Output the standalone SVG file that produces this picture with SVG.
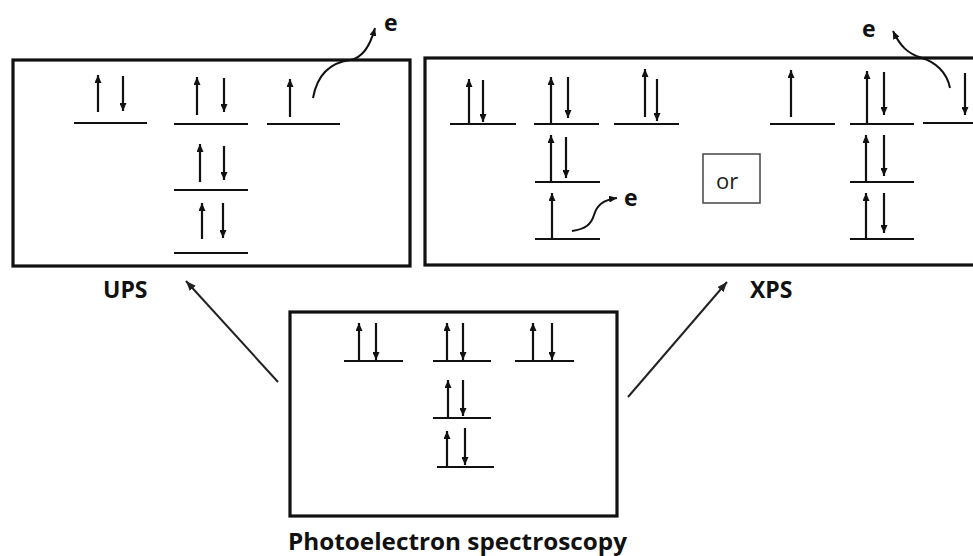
<svg xmlns="http://www.w3.org/2000/svg" width="973" height="556" viewBox="0 0 973 556">
<style>
.box{fill:none;stroke:#111;stroke-width:3.2}
.lv{stroke:#111;stroke-width:2.2}
.sp{stroke:#111;stroke-width:2.2;marker-end:url(#ah)}
.cv{fill:none;stroke:#111;stroke-width:2;marker-end:url(#ah)}
.cn{stroke:#222;stroke-width:2;marker-end:url(#ah2)}
.lbl{font-family:"Open Sans","Liberation Sans",sans-serif;font-weight:bold;fill:#111}
.or{font-family:"Open Sans","Liberation Sans",sans-serif;font-size:22px;fill:#222}
</style>
<defs>
<marker id="ah" markerUnits="userSpaceOnUse" markerWidth="8" markerHeight="7" refX="8" refY="3.5" orient="auto"><path d="M0,0 L8,3.5 L0,7 z" fill="#111"/></marker>
<marker id="ah2" markerUnits="userSpaceOnUse" markerWidth="10" markerHeight="8" refX="10" refY="4" orient="auto"><path d="M0,0 L10,4 L0,8 z" fill="#222"/></marker>
</defs>
<rect width="973" height="556" fill="#fff"/>
<g id="ups">
<rect class="box" x="13" y="60" width="397" height="206"/>
<line class="lv" x1="74" y1="123" x2="147" y2="123"/>
<line class="sp" x1="98" y1="112" x2="98" y2="75"/>
<line class="sp" x1="123" y1="76" x2="123" y2="111"/>
<line class="lv" x1="174" y1="124" x2="248" y2="124"/>
<line class="sp" x1="197" y1="115" x2="197" y2="77"/>
<line class="sp" x1="224" y1="78" x2="224" y2="112"/>
<line class="lv" x1="267" y1="124" x2="340" y2="124"/>
<line class="sp" x1="290" y1="117" x2="290" y2="79"/>
<line class="lv" x1="174" y1="190" x2="248" y2="190"/>
<line class="sp" x1="200" y1="182" x2="200" y2="144"/>
<line class="sp" x1="224" y1="146" x2="224" y2="180"/>
<line class="lv" x1="174" y1="253" x2="248" y2="253"/>
<line class="sp" x1="202" y1="239" x2="202" y2="203"/>
<line class="sp" x1="223" y1="203" x2="223" y2="238"/>
<path class="cv" d="M313,98 C318,70 335,62 350,60 C363,58 370,46 375,28"/>
<text class="lbl" x="384" y="31" font-size="23">e</text>
</g>
<g id="xps">
<rect class="box" x="425" y="58" width="560" height="207"/>
<line class="lv" x1="450" y1="124" x2="516" y2="124"/>
<line class="sp" x1="469" y1="124" x2="469" y2="79"/>
<line class="sp" x1="483" y1="80" x2="483" y2="122"/>
<line class="lv" x1="534" y1="124" x2="599" y2="124"/>
<line class="sp" x1="551" y1="124" x2="551" y2="77"/>
<line class="sp" x1="568" y1="77" x2="568" y2="118"/>
<line class="lv" x1="614" y1="124" x2="679" y2="124"/>
<line class="sp" x1="645" y1="117" x2="645" y2="69"/>
<line class="sp" x1="657" y1="79" x2="657" y2="121"/>
<line class="lv" x1="535" y1="182" x2="600" y2="182"/>
<line class="sp" x1="551" y1="182" x2="551" y2="135"/>
<line class="sp" x1="566" y1="137" x2="566" y2="178"/>
<line class="lv" x1="535" y1="239" x2="600" y2="239"/>
<line class="sp" x1="552" y1="239" x2="552" y2="193"/>
<path class="cv" d="M572,231 C585,229 591,225 594,215 C597,205 603,200 617,198"/>
<text class="lbl" x="624" y="206" font-size="23">e</text>
<rect x="703" y="154" width="57" height="49" fill="none" stroke="#444" stroke-width="1.5"/>
<text class="or" x="716" y="189">or</text>
<line class="lv" x1="770" y1="124" x2="835" y2="124"/>
<line class="sp" x1="791" y1="117" x2="791" y2="70"/>
<line class="lv" x1="850" y1="124" x2="914" y2="124"/>
<line class="sp" x1="867" y1="124" x2="867" y2="71"/>
<line class="sp" x1="884" y1="72" x2="884" y2="115"/>
<line class="lv" x1="923" y1="123" x2="980" y2="123"/>
<line class="sp" x1="965" y1="73" x2="965" y2="115"/>
<line class="lv" x1="850" y1="182" x2="914" y2="182"/>
<line class="sp" x1="866" y1="182" x2="866" y2="135"/>
<line class="sp" x1="884" y1="135" x2="884" y2="176"/>
<line class="lv" x1="850" y1="239" x2="914" y2="239"/>
<line class="sp" x1="866" y1="239" x2="866" y2="193"/>
<line class="sp" x1="884" y1="193" x2="884" y2="233"/>
<path class="cv" d="M950,88 C947,72 935,62 922,58 C908,54 900,46 893,31"/>
<text class="lbl" x="862" y="37" font-size="23">e</text>
</g>
<g id="pes">
<rect class="box" x="290" y="312" width="327" height="204"/>
<line class="lv" x1="344" y1="361" x2="403" y2="361"/>
<line class="sp" x1="359" y1="361" x2="359" y2="323"/>
<line class="sp" x1="376" y1="323" x2="376" y2="360"/>
<line class="lv" x1="433" y1="361" x2="491" y2="361"/>
<line class="sp" x1="447" y1="361" x2="447" y2="323"/>
<line class="sp" x1="463" y1="323" x2="463" y2="360"/>
<line class="lv" x1="515" y1="361" x2="574" y2="361"/>
<line class="sp" x1="533" y1="361" x2="533" y2="323"/>
<line class="sp" x1="552" y1="323" x2="552" y2="360"/>
<line class="lv" x1="433" y1="418" x2="491" y2="418"/>
<line class="sp" x1="448" y1="418" x2="448" y2="380"/>
<line class="sp" x1="463" y1="380" x2="463" y2="416"/>
<line class="lv" x1="437" y1="467" x2="494" y2="467"/>
<line class="sp" x1="447" y1="467" x2="447" y2="431"/>
<line class="sp" x1="465" y1="428" x2="465" y2="465"/>
</g>
<g id="labels">
<text class="lbl" x="103" y="298" font-size="23">UPS</text>
<text class="lbl" x="750" y="298" font-size="23">XPS</text>
<text class="lbl" x="288" y="550" font-size="23" textLength="339" lengthAdjust="spacingAndGlyphs">Photoelectron spectroscopy</text>
</g>
<g id="connectors">
<line class="cn" x1="278" y1="382" x2="186" y2="281"/>
<line class="cn" x1="628" y1="397" x2="727" y2="282"/>
</g>
</svg>
